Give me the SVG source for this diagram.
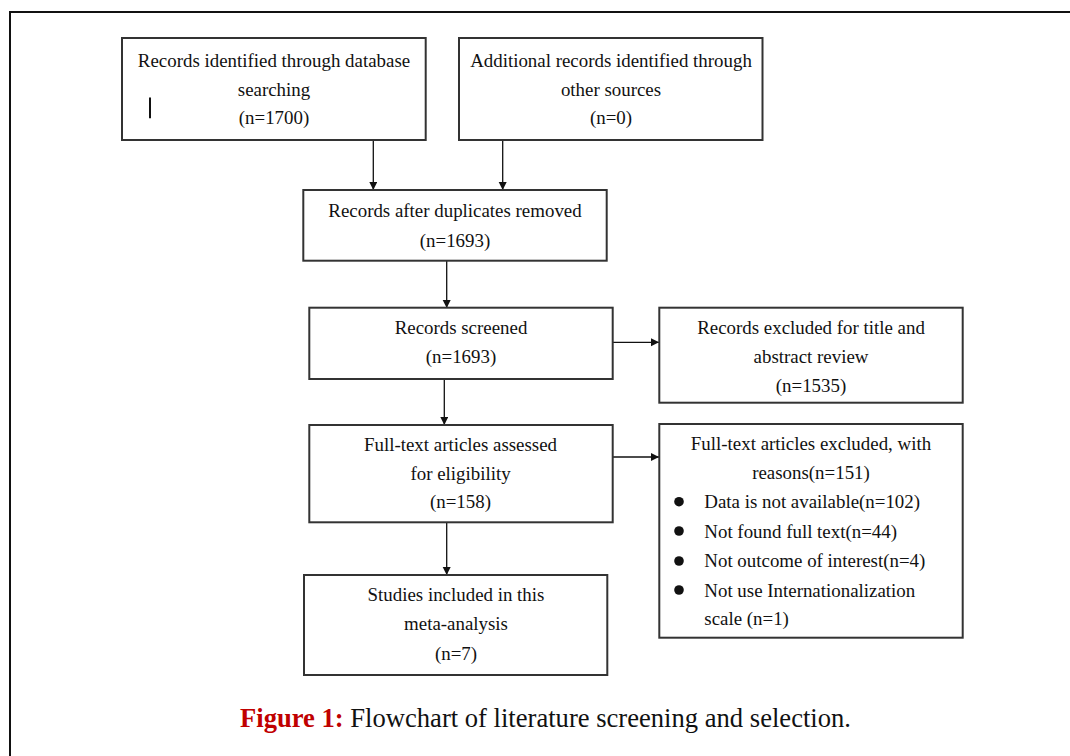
<svg xmlns="http://www.w3.org/2000/svg" width="1070" height="756" viewBox="0 0 1070 756">
<style>
.box{fill:#fff;stroke:#333;stroke-width:2}
.t{font-family:"Liberation Serif","Times New Roman",serif;font-size:18.9px;fill:#111;text-anchor:middle}
.tl{font-family:"Liberation Serif","Times New Roman",serif;font-size:18.9px;fill:#111}
.c{stroke:#111;stroke-width:1.3;fill:none;marker-end:url(#ah)}
.cap{font-family:"Liberation Serif","Times New Roman",serif;font-size:26.6px;fill:#111}
</style>
<defs>
<marker id="ah" markerUnits="userSpaceOnUse" markerWidth="9" markerHeight="9" refX="8" refY="4" orient="auto">
<path d="M0,0 L8,4 L0,8 z" fill="#111"/>
</marker>
</defs>
<rect width="1070" height="756" fill="#fff"/>
<path d="M10,756 V12 H1070" fill="none" stroke="#111" stroke-width="2"/>

<g id="connectors">
<line class="c" x1="373.3" y1="140" x2="373.3" y2="190"/>
<line class="c" x1="502.7" y1="140" x2="502.7" y2="190"/>
<line class="c" x1="446.7" y1="261" x2="446.7" y2="308"/>
<line class="c" x1="613" y1="342.3" x2="659" y2="342.3"/>
<line class="c" x1="444.3" y1="379" x2="444.3" y2="425"/>
<line class="c" x1="613" y1="457" x2="659" y2="457"/>
<line class="c" x1="446.7" y1="522.3" x2="446.7" y2="575"/>
</g>

<g id="n1">
<rect class="box" x="122" y="38" width="303.7" height="102"/>
<text class="t" x="274" y="66.5">Records identified through database</text>
<text class="t" x="274" y="95.5">searching</text>
<text class="t" x="274" y="124">(n=1700)</text>
<line x1="150" y1="97.5" x2="150" y2="118.3" stroke="#111" stroke-width="2"/>
</g>

<g id="n2">
<rect class="box" x="459" y="38" width="303.5" height="102"/>
<text class="t" x="611" y="66.5">Additional records identified through</text>
<text class="t" x="611" y="95.5">other sources</text>
<text class="t" x="611" y="124">(n=0)</text>
</g>

<g id="n3">
<rect class="box" x="303.3" y="190" width="303.4" height="70.7"/>
<text class="t" x="455" y="216.7">Records after duplicates removed</text>
<text class="t" x="455" y="246.5">(n=1693)</text>
</g>

<g id="n4">
<rect class="box" x="309.3" y="307.7" width="303.4" height="71.3"/>
<text class="t" x="461" y="334">Records screened</text>
<text class="t" x="461" y="362.7">(n=1693)</text>
</g>

<g id="n5">
<rect class="box" x="659.3" y="307.7" width="303.4" height="95"/>
<text class="t" x="811" y="334.3">Records excluded for title and</text>
<text class="t" x="811" y="363.3">abstract review</text>
<text class="t" x="811" y="391.7">(n=1535)</text>
</g>

<g id="n6">
<rect class="box" x="659.3" y="424" width="303.4" height="213.7"/>
<text class="t" x="811" y="450">Full-text articles excluded, with</text>
<text class="t" x="811" y="479.3">reasons(n=151)</text>
<circle cx="679" cy="501.7" r="4.8" fill="#111"/>
<circle cx="679" cy="531" r="4.8" fill="#111"/>
<circle cx="679" cy="561" r="4.8" fill="#111"/>
<circle cx="679" cy="590" r="4.8" fill="#111"/>
<text class="tl" x="704.3" y="508.3">Data is not available(n=102)</text>
<text class="tl" x="704.3" y="537.7">Not found full text(n=44)</text>
<text class="tl" x="704.3" y="566.7">Not outcome of interest(n=4)</text>
<text class="tl" x="704.3" y="596.5">Not use Internationalization</text>
<text class="tl" x="704.3" y="625">scale (n=1)</text>
</g>

<g id="n7">
<rect class="box" x="309.3" y="425" width="303.4" height="97.3"/>
<text class="t" x="460.5" y="450.7">Full-text articles assessed</text>
<text class="t" x="460.5" y="480">for eligibility</text>
<text class="t" x="460.5" y="508.3">(n=158)</text>
</g>

<g id="n8">
<rect class="box" x="304" y="575" width="303.3" height="100"/>
<text class="t" x="456" y="601">Studies included in this</text>
<text class="t" x="456" y="630">meta-analysis</text>
<text class="t" x="456" y="660">(n=7)</text>
</g>

<g id="caption">
<text class="cap" x="240" y="727"><tspan font-weight="bold" fill="#c00000">Figure 1:</tspan> Flowchart of literature screening and selection.</text>
</g>
</svg>
